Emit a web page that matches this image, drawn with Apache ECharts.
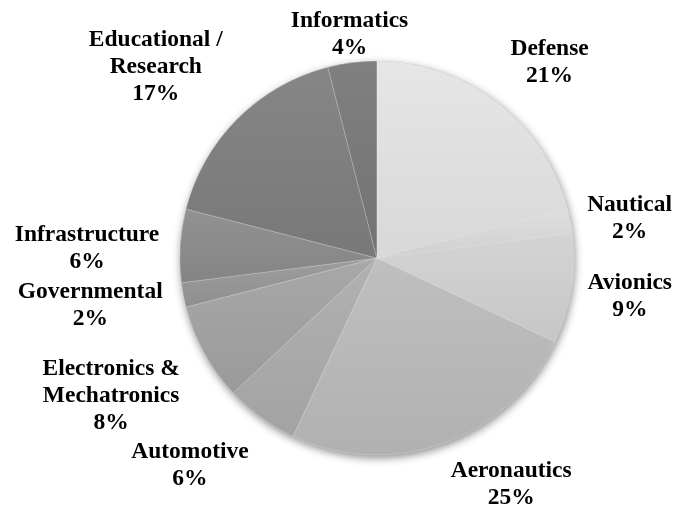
<!DOCTYPE html>
<html>
<head>
<meta charset="utf-8">
<script src="https://cdn.jsdelivr.net/npm/echarts@6/dist/echarts.min.js"></script>
<style>
  html, body { margin: 0; padding: 0; background: #ffffff; }
  #chart { width: 679px; height: 511px; }
</style>
</head>
<body>
<div id="chart"></div>
<script>
// Sectors, clockwise from twelve o'clock
const categories = [
  'Defense', 'Nautical', 'Avionics', 'Aeronautics', 'Automotive',
  'Electronics &\nMechatronics', 'Governmental', 'Infrastructure',
  'Educational /\nResearch', 'Informatics'
];
const shares = [21, 2, 9, 25, 6, 8, 2, 6, 17, 4];
const shades = [
  '#dfdfdf', '#d7d7d7', '#cdcdcd', '#b8b8b8', '#aaaaaa',
  '#a1a1a1', '#969696', '#8b8b8b', '#7f7f7f', '#797979'
];

const PIE_CENTER = ['55.5%', '50.5%'];
const PIE_RADIUS = 197;
const FONT_SIZE = 23.5;
const LINE_HEIGHT = 27;
const FONT_FAMILY = '"Liberation Serif", "Times New Roman", serif';

function lighten(hex, d) {
  const v = Math.max(0, Math.min(255, parseInt(hex.slice(1, 3), 16) + d));
  const h = v.toString(16).padStart(2, '0');
  return '#' + h + h + h;
}

const total = shares.reduce((a, b) => a + b, 0);
const startFrac = [];
shares.reduce((acc, v) => { startFrac.push(acc); return acc + v; }, 0);

const chart = echarts.init(document.getElementById('chart'));

// ---- label placement: boxes sit just outside the rim, kept on-canvas,
// and nudged clockwise when they would collide with the previous one ----
const measureCtx = document.createElement('canvas').getContext('2d');
measureCtx.font = 'bold ' + FONT_SIZE + 'px ' + FONT_FAMILY;

function labelSize(i) {
  const lines = (categories[i] + '\n' + shares[i] + '%').split('\n');
  const w = Math.max.apply(null, lines.map(s => measureCtx.measureText(s).width));
  return { w: w, h: lines.length * LINE_HEIGHT };
}

function boxAt(theta, size, geo) {
  const dx = Math.sin(theta), dy = -Math.cos(theta);
  const f = v => Math.sign(v) * Math.max(0, Math.min(1, (Math.abs(v) - 0.17) * 6));
  let x = geo.cx + dx * (geo.r + geo.gap) + f(dx) * size.w / 2;
  let y = geo.cy + dy * (geo.r + geo.gap) + f(dy) * size.h / 2 + geo.baseShift;
  // keep inside the drawing area
  x = Math.max(geo.m + size.w / 2, Math.min(geo.W - geo.m - size.w / 2, x));
  y = Math.max(geo.m + size.h / 2, Math.min(geo.H - size.h / 2, y));
  return { x: x, y: y, w: size.w, h: size.h };
}

function overlaps(a, b) {
  return Math.abs(a.x - b.x) < (a.w + b.w) / 2 + 1 &&
         Math.abs(a.y - b.y) < (a.h + b.h) / 2 + 1;
}

function computeLabelBoxes() {
  const W = chart.getWidth(), H = chart.getHeight();
  const geo = {
    W: W, H: H, m: 7, r: PIE_RADIUS, gap: 21, baseShift: 4,
    cx: W * parseFloat(PIE_CENTER[0]) / 100,
    cy: H * parseFloat(PIE_CENTER[1]) / 100
  };
  const boxes = [];
  shares.forEach((v, i) => {
    const size = labelSize(i);
    let theta = ((startFrac[i] + v / 2) / total) * Math.PI * 2;
    let box = boxAt(theta, size, geo);
    let guard = 0;
    while (i > 0 && overlaps(box, boxes[i - 1]) && guard++ < 60) {
      theta += Math.PI / 360;
      box = boxAt(theta, size, geo);
    }
    boxes.push(box);
  });
  return boxes;
}

const labelBoxes = computeLabelBoxes();

chart.setOption({
  animation: false,
  backgroundColor: '#ffffff',
  series: [
    {
      // soft drop shadow under the whole disc
      type: 'pie',
      silent: true,
      center: PIE_CENTER,
      radius: PIE_RADIUS,
      z: 1,
      label: { show: false },
      labelLine: { show: false },
      itemStyle: {
        color: '#aaaaaa',
        shadowBlur: 9,
        shadowOffsetX: 1,
        shadowOffsetY: 3,
        shadowColor: 'rgba(0,0,0,0.45)'
      },
      data: [{ value: 1 }]
    },
    {
      type: 'pie',
      center: PIE_CENTER,
      radius: PIE_RADIUS,
      startAngle: 90,
      clockwise: true,
      z: 2,
      percentPrecision: 0,
      avoidLabelOverlap: false,
      itemStyle: {
        borderColor: 'rgba(255,255,255,0.35)',
        borderWidth: 0.6
      },
      label: {
        show: true,
        position: 'outside',
        formatter: '{b}\n{d}%',
        fontFamily: FONT_FAMILY,
        fontWeight: 'bold',
        fontSize: FONT_SIZE,
        lineHeight: LINE_HEIGHT,
        color: '#000000',
        align: 'center'
      },
      labelLine: { show: false },
      labelLayout: function (params) {
        const b = labelBoxes[params.dataIndex];
        return { x: b.x, y: b.y, align: 'center', verticalAlign: 'middle' };
      },
      data: categories.map((name, i) => ({
        name: name,
        value: shares[i],
        itemStyle: {
          color: new echarts.graphic.LinearGradient(0, 0, 0, 1, [
            { offset: 0, color: lighten(shades[i], 7) },
            { offset: 1, color: lighten(shades[i], -7) }
          ])
        }
      }))
    }
  ]
});
</script>
</body>
</html>
